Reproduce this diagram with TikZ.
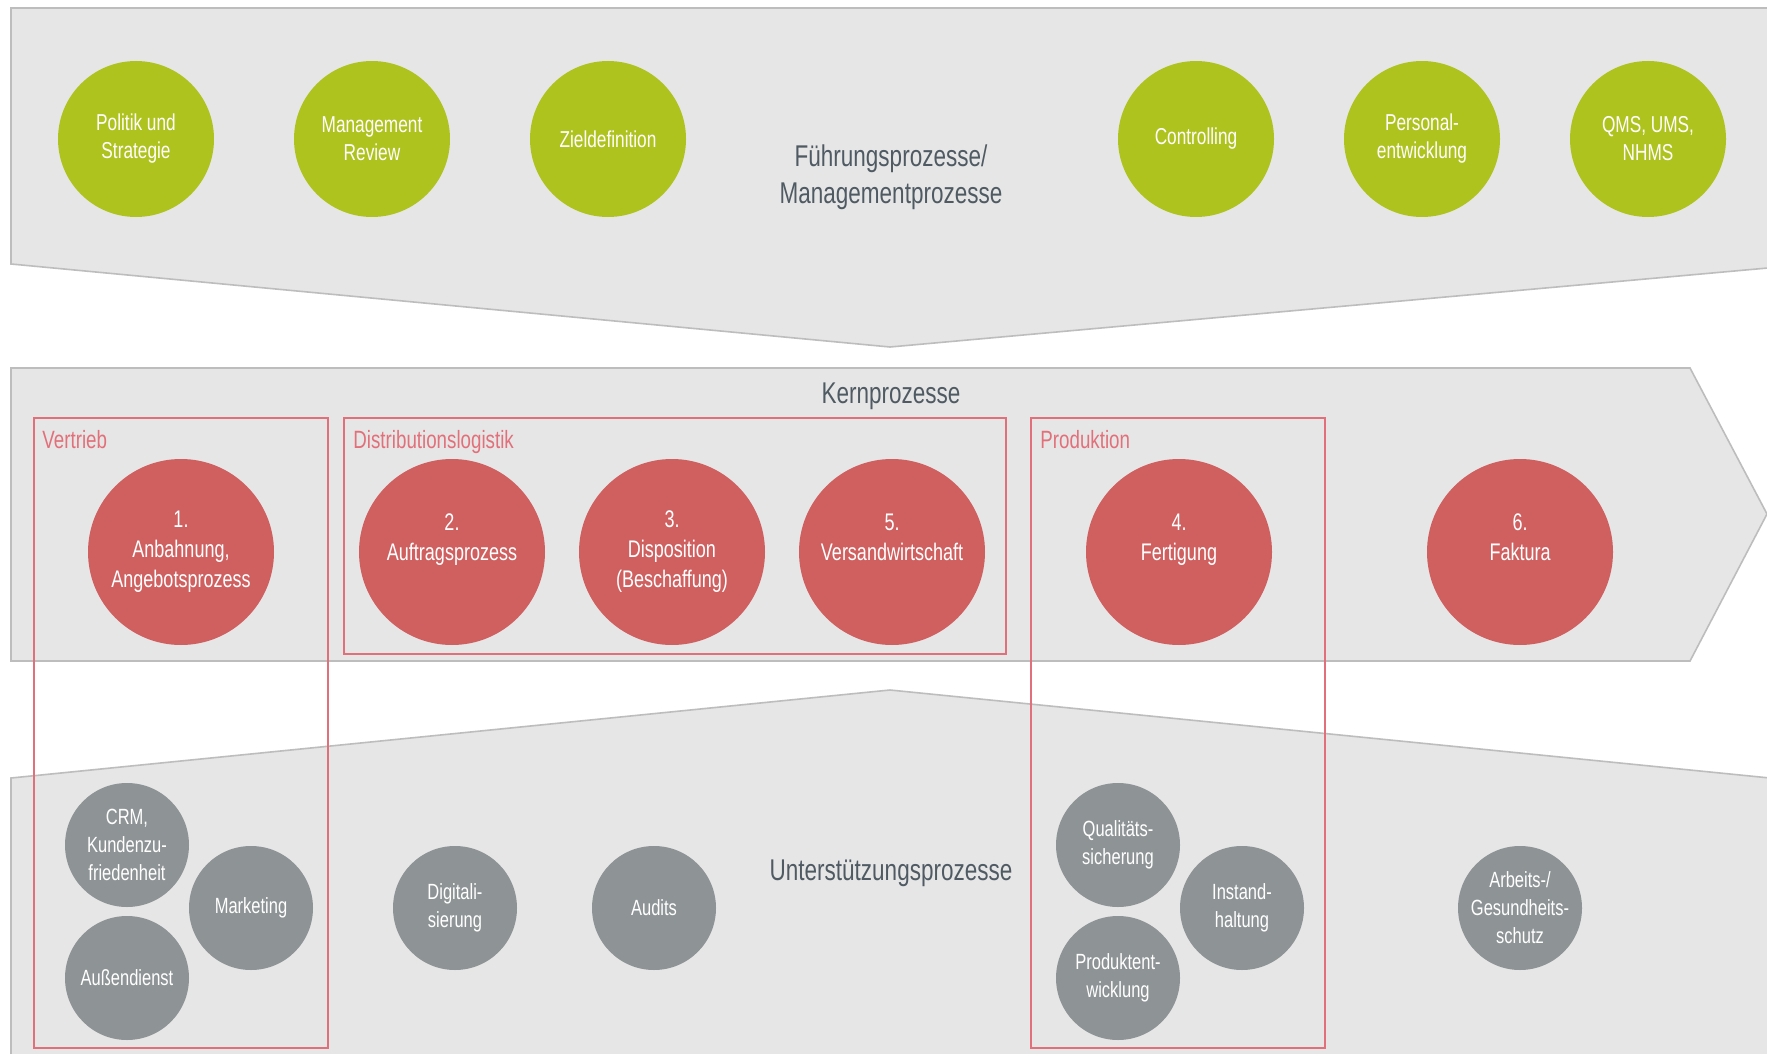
\documentclass[tikz,border=0pt]{standalone}
\usepackage{fontspec}
\setmainfont{Liberation Sans}[FakeStretch=0.75]
\usetikzlibrary{positioning}

\definecolor{bandgray}{HTML}{E6E6E6}
\definecolor{bandline}{HTML}{BDBDBD}
\definecolor{leafgreen}{HTML}{AFC31F}
\definecolor{corered}{HTML}{D06060}
\definecolor{supgray}{HTML}{8E9496}
\definecolor{boxred}{HTML}{E2707A}
\definecolor{labelgray}{HTML}{4F5A63}

\begin{document}
\begin{tikzpicture}[x=0.5pt,y=-0.5pt,node distance=118pt,
                    band/.style={fill=bandgray,draw=bandline,line width=0.8pt}]
  \tikzstyle{prozess}=[circle,text=white,align=center,inner sep=0pt]
  \tikzstyle{fuehrung}=[prozess,fill=leafgreen,minimum size=78pt,font=\fontsize{11.5}{14}\selectfont]
  \tikzstyle{kern}=[prozess,fill=corered,minimum size=93pt,font=\fontsize{12}{15}\selectfont]
  \tikzstyle{stuetz}=[prozess,fill=supgray,minimum size=62pt,font=\fontsize{11}{14}\selectfont]
  \tikzstyle{gruppe}=[draw=boxred,line width=0.6pt]
  \tikzstyle{gruppentitel}=[anchor=north west,inner sep=0pt,text=boxred,font=\fontsize{12.5}{15}\selectfont]
  \tikzstyle{bandtitel}=[text=labelgray,align=center,font=\fontsize{15}{18.5}\selectfont]

  \fill[white] (0,0) rectangle (1767,1054);
  \useasboundingbox (0,0) rectangle (1767,1054);

  % the three bands
  \draw[band] (11,8) -- (1790,8) -- (1790,266) -- (890,347) -- (11,264) -- cycle;
  \draw[band] (11,368) -- (1690,368) -- (1767,514) -- (1690,661) -- (11,661) -- cycle;
  \draw[band] (11,778) -- (890,690) -- (1790,780) -- (1790,1080) -- (11,1080) -- cycle;

  \node[bandtitel] (fuehrungtitel) at (891,177) {Führungsprozesse/\\Managementprozesse};
  \node[bandtitel] (kerntitel)     at (891,396) {Kernprozesse};
  \node[bandtitel] (stuetztitel)   at (891,873) {Unterstützungsprozesse};

  % groups
  \draw[gruppe] (34,418) rectangle (328,1048);
  \draw[gruppe] (344,418) rectangle (1006,654);
  \draw[gruppe] (1031,418) rectangle (1325,1048);
  \node[gruppentitel] (vertrieb)   at (42,430)   {Vertrieb};
  \node[gruppentitel] (distlog)    at (353,430)  {Distributionslogistik};
  \node[gruppentitel] (produktion) at (1040,430) {Produktion};

  % Fuehrungsprozesse
  \node[fuehrung] (politik)                      at (136,139)  {Politik und\\Strategie};
  \node[fuehrung] (review)  [right of=politik]                 {Management\\Review};
  \node[fuehrung] (ziel)    [right of=review]                  {Zieldefinition};
  \node[fuehrung] (controlling)                  at (1196,139) {Controlling};
  \node[fuehrung] (personal) [right of=controlling,node distance=113pt] {Personal-\\entwicklung};
  \node[fuehrung] (qms)      [right of=personal,node distance=113pt]    {QMS, UMS,\\NHMS};

  % Kernprozesse
  \node[kern] (anbahnung)                     at (181,552)  {1.\\Anbahnung,\\Angebotsprozess};
  \node[kern] (auftrag)                       at (452,552)  {2.\\Auftragsprozess\\~};
  \node[kern] (dispo)   [right of=auftrag,node distance=110pt] {3.\\Disposition\\(Beschaffung)};
  \node[kern] (versand) [right of=dispo,node distance=110pt]   {5.\\Versandwirtschaft\\~};
  \node[kern] (fertigung)                     at (1179,552) {4.\\Fertigung\\~};
  \node[kern] (faktura)                       at (1520,552) {6.\\Faktura\\~};

  % Unterstuetzungsprozesse
  \node[stuetz] (crm)          at (127,845)  {CRM,\\Kundenzu-\\friedenheit};
  \node[stuetz] (marketing)    at (251,908)  {Marketing};
  \node[stuetz] (aussendienst) at (127,978)  {Außendienst};
  \node[stuetz] (digital)      at (455,908)  {Digitali-\\sierung};
  \node[stuetz] (audits)       at (654,908)  {Audits};
  \node[stuetz] (quali)        at (1118,845) {Qualitäts-\\sicherung};
  \node[stuetz] (instand)      at (1242,908) {Instand-\\haltung};
  \node[stuetz] (produktent)   at (1118,978) {Produktent-\\wicklung};
  \node[stuetz] (arbeit)       at (1520,908) {Arbeits-/\\Gesundheits-\\schutz};
\end{tikzpicture}
\end{document}
